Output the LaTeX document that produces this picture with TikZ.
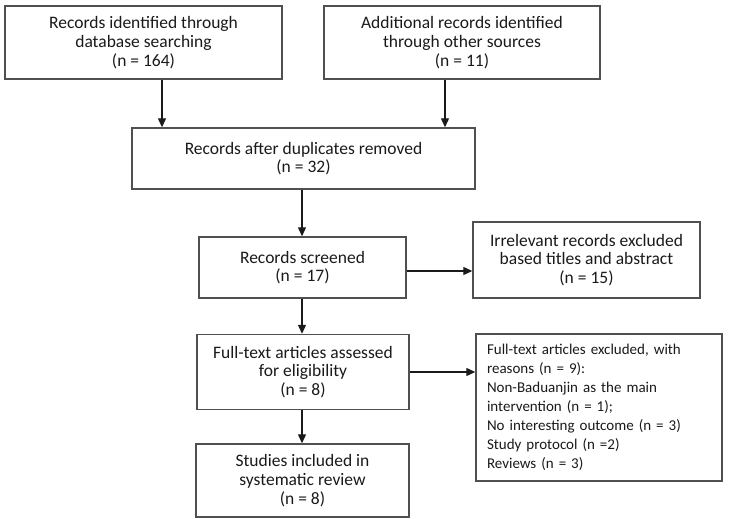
\documentclass[tikz,border=0pt]{standalone}
\usepackage{fontspec}
\setmainfont{Carlito}
\usetikzlibrary{arrows.meta,calc}
\definecolor{boxline}{HTML}{505050}
\definecolor{txt}{HTML}{1A1A1A}
\tikzset{
  box/.style={draw=boxline, line width=1.4pt, fill=white, align=center, inner sep=0pt,
    font=\fontsize{17.5}{18.7}\selectfont, text=txt},
  arr/.style={draw=txt, line width=1.2pt, -{Triangle[length=9pt,width=8pt]}},
}
\begin{document}
\begin{tikzpicture}[x=1pt,y=-1pt]
\fill[white] (0,0) rectangle (732,519);
\useasboundingbox (0,0) rectangle (732,519);
\node[box, minimum width=277, minimum height=73] (A) at (143.5,42.5)
  {Records identified through\\database searching\\(n = 164)};
\node[box, minimum width=276, minimum height=73] (B) at (462,42.5)
  {Additional records identified\\through other sources\\(n = 11)};
\node[box, minimum width=343, minimum height=61] (C) at (303.5,158.5)
  {Records after duplicates removed\\(n = 32)};
\node[box, minimum width=207, minimum height=61] (D) at (302.5,267.5)
  {Records screened\\(n = 17)};
\node[box, minimum width=227, minimum height=76] (E) at (586.5,260)
  {Irrelevant records excluded\\based titles and abstract\\(n = 15)};
\node[box, minimum width=212, minimum height=75] (F) at (303,372)
  {Full-text articles assessed\\for eligibility\\(n = 8)};
\node[box, minimum width=213, minimum height=73] (G) at (302.5,480.5)
  {Studies included in\\systematic review\\(n = 8)};
\node[box, minimum width=246, minimum height=147, text width=224pt, align=left,
  inner xsep=11pt, font=\fontsize{15}{18.9}\selectfont] (H) at (599,407.5)
  {Full-text articles excluded, with\\reasons (n = 9):\\Non-Baduanjin as the main\\intervention (n = 1);\\No interesting outcome (n = 3)\\Study protocol (n =2)\\Reviews (n = 3)};
\draw[arr] ([xshift=18.5pt]A.south) -- ([xshift=18.5pt]A.south |- C.north);
\draw[arr] ([xshift=-17pt]B.south) -- ([xshift=-17pt]B.south |- C.north);
\draw[arr] ([xshift=-1.5pt]C.south) -- ([xshift=-1.5pt]C.south |- D.north);
\draw[arr] ([yshift=-3.5pt]D.east) -- ([yshift=-3.5pt]D.east -| E.west);
\draw[arr] ([xshift=-1pt]F.south) -- ([xshift=-1pt]F.south |- G.north);
\draw[arr] ([xshift=-0.5pt]D.south) -- ([xshift=-0.5pt]D.south |- F.north);
\draw[arr] (F.east) -- (F.east -| H.west);
\end{tikzpicture}
\end{document}
